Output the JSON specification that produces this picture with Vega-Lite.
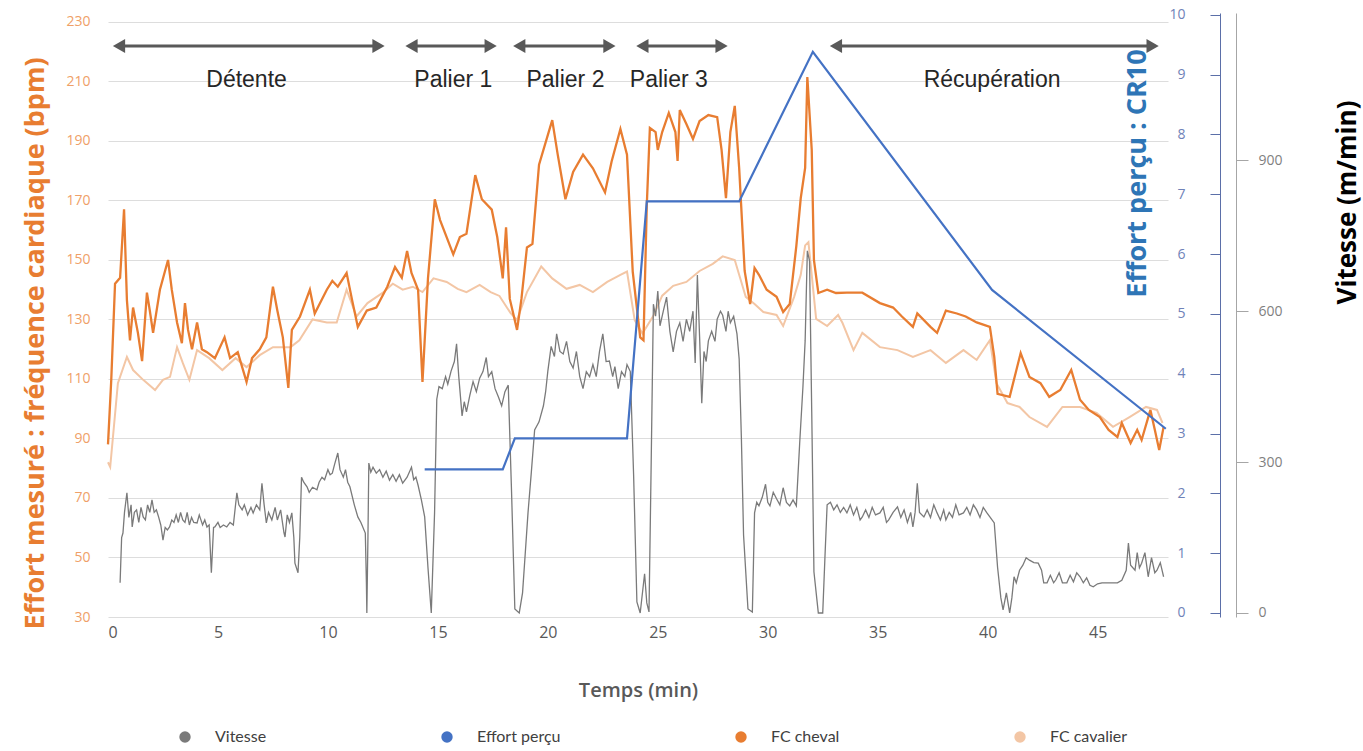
{
  "$schema": "https://vega.github.io/schema/vega-lite/v6.json",
  "width": 1060,
  "height": 604,
  "autosize": {"type": "none"},
  "padding": {"left": 108, "top": 13, "right": 195, "bottom": 134},
  "background": "white",
  "config": {
    "view": {"stroke": null},
    "font": "Lato",
    "axisX": {"tickCount": 10, "grid": false, "domain": false, "ticks": false, "labelColor": "#595959", "labelFontSize": 16, "labelFont": "Open Sans", "labelPadding": 7, "titleColor": "#595959", "titleFont": "Open Sans", "titleFontSize": 20, "titleFontWeight": 600, "titleY": 73, "titleBaseline": "middle"}
  },
  "datasets": {
    "cheval": [
      {"t":0.0,"v":88},{"t":0.15,"v":110},{"t":0.32,"v":142},{"t":0.55,"v":144},{"t":0.73,"v":167},{"t":0.86,"v":136.5},{"t":1.0,"v":123},{"t":1.14,"v":134},{"t":1.36,"v":125.5},{"t":1.55,"v":116},{"t":1.77,"v":139},{"t":1.9,"v":133},{"t":2.05,"v":125.5},{"t":2.36,"v":140},{"t":2.73,"v":150},{"t":2.9,"v":140},{"t":3.14,"v":129},{"t":3.36,"v":122},{"t":3.5,"v":135.5},{"t":3.64,"v":126.5},{"t":3.82,"v":120},{"t":4.05,"v":129},{"t":4.27,"v":120},{"t":4.5,"v":119},{"t":4.86,"v":117},{"t":5.3,"v":124},{"t":5.55,"v":117},{"t":5.9,"v":119},{"t":6.3,"v":109},{"t":6.55,"v":117},{"t":6.9,"v":120},{"t":7.2,"v":124},{"t":7.5,"v":141},{"t":7.7,"v":133},{"t":7.95,"v":124},{"t":8.2,"v":107},{"t":8.36,"v":126.5},{"t":8.73,"v":131},{"t":9.18,"v":140},{"t":9.4,"v":132},{"t":9.95,"v":140},{"t":10.2,"v":143},{"t":10.45,"v":141},{"t":10.85,"v":145.6},{"t":11.1,"v":136.5},{"t":11.36,"v":127.5},{"t":11.77,"v":133},{"t":12.2,"v":134},{"t":12.7,"v":141},{"t":13.05,"v":147.6},{"t":13.36,"v":144},{"t":13.6,"v":153},{"t":13.8,"v":145.6},{"t":14.1,"v":140},{"t":14.3,"v":109},{"t":14.55,"v":143.8},{"t":14.86,"v":170.4},{"t":15.1,"v":163.4},{"t":15.7,"v":151.9},{"t":16.0,"v":157.7},{"t":16.3,"v":158.8},{"t":16.7,"v":178.5},{"t":17.0,"v":170.4},{"t":17.45,"v":166.9},{"t":17.7,"v":157.7},{"t":17.95,"v":143.8},{"t":18.1,"v":161},{"t":18.27,"v":136.9},{"t":18.6,"v":126.5},{"t":18.8,"v":136.9},{"t":19.05,"v":154.2},{"t":19.3,"v":155.4},{"t":19.6,"v":182},{"t":20.2,"v":197},{"t":20.45,"v":185.4},{"t":20.8,"v":170.4},{"t":21.15,"v":179.6},{"t":21.6,"v":185.4},{"t":22.05,"v":180.8},{"t":22.6,"v":172.7},{"t":22.9,"v":183.1},{"t":23.3,"v":194},{"t":23.6,"v":185.4},{"t":23.86,"v":146.1},{"t":24.2,"v":124},{"t":24.35,"v":123},{"t":24.5,"v":168.5},{"t":24.64,"v":194.4},{"t":24.9,"v":193},{"t":25.0,"v":187},{"t":25.2,"v":193},{"t":25.5,"v":199.4},{"t":25.8,"v":193},{"t":25.9,"v":183.3},{"t":26.0,"v":200.4},{"t":26.3,"v":195.7},{"t":26.6,"v":190.7},{"t":26.9,"v":196.7},{"t":27.3,"v":198.7},{"t":27.7,"v":198},{"t":27.9,"v":187},{"t":28.1,"v":170.8},{"t":28.3,"v":193},{"t":28.5,"v":201.8},{"t":28.7,"v":180.9},{"t":28.95,"v":146.3},{"t":29.2,"v":135.2},{"t":29.4,"v":147.3},{"t":29.6,"v":145},{"t":29.95,"v":140},{"t":30.4,"v":137.6},{"t":30.7,"v":132.5},{"t":31.0,"v":135.2},{"t":31.3,"v":154.7},{"t":31.5,"v":170.8},{"t":31.7,"v":180.9},{"t":31.8,"v":211.5},{"t":32.0,"v":187},{"t":32.1,"v":150},{"t":32.3,"v":138.9},{"t":32.7,"v":140},{"t":33.1,"v":138.9},{"t":33.6,"v":139},{"t":34.3,"v":139},{"t":35.1,"v":135.5},{"t":35.7,"v":134},{"t":36.1,"v":131},{"t":36.6,"v":127.5},{"t":36.8,"v":132},{"t":37.4,"v":127.5},{"t":37.7,"v":125.5},{"t":38.1,"v":133},{"t":38.6,"v":132},{"t":39.0,"v":131},{"t":39.5,"v":129},{"t":40.1,"v":127.5},{"t":40.3,"v":117.4},{"t":40.45,"v":105},{"t":41.0,"v":104},{"t":41.5,"v":118.7},{"t":41.9,"v":110.7},{"t":42.4,"v":108.6},{"t":42.8,"v":104},{"t":43.3,"v":106.3},{"t":43.8,"v":113},{"t":44.2,"v":103},{"t":44.6,"v":99.6},{"t":45.1,"v":97.2},{"t":45.5,"v":92.9},{"t":45.9,"v":90.5},{"t":46.1,"v":95.2},{"t":46.5,"v":88.5},{"t":46.8,"v":92.9},{"t":47.0,"v":89.5},{"t":47.4,"v":99.6},{"t":47.6,"v":92.9},{"t":47.8,"v":86.1},{"t":48.0,"v":93.9}
    ],
    "cavalier": [
      {"t":0.0,"v":82},{"t":0.1,"v":80.4},{"t":0.45,"v":108.6},{"t":0.86,"v":117.4},{"t":1.14,"v":113},{"t":1.6,"v":109.7},{"t":2.14,"v":106.3},{"t":2.5,"v":109.7},{"t":2.82,"v":110.7},{"t":3.14,"v":120.7},{"t":3.4,"v":115.4},{"t":3.7,"v":109.7},{"t":4.05,"v":119.7},{"t":4.6,"v":117},{"t":5.2,"v":113},{"t":5.8,"v":117},{"t":6.3,"v":114},{"t":6.9,"v":118},{"t":7.5,"v":120.7},{"t":8.3,"v":120.7},{"t":8.7,"v":123},{"t":9.3,"v":130},{"t":9.95,"v":129},{"t":10.4,"v":129},{"t":10.85,"v":140},{"t":11.3,"v":131},{"t":11.8,"v":135.5},{"t":12.5,"v":139},{"t":12.95,"v":142},{"t":13.4,"v":140},{"t":13.86,"v":141},{"t":14.3,"v":139.2},{"t":14.8,"v":143.8},{"t":15.4,"v":142.6},{"t":15.9,"v":140.3},{"t":16.3,"v":139.2},{"t":16.9,"v":141.6},{"t":17.4,"v":139.2},{"t":17.8,"v":137.9},{"t":18.3,"v":132.2},{"t":18.6,"v":129.8},{"t":19.05,"v":139.2},{"t":19.7,"v":147.8},{"t":20.2,"v":143.8},{"t":20.85,"v":140.3},{"t":21.45,"v":141.6},{"t":22.05,"v":139.2},{"t":22.7,"v":142.6},{"t":23.3,"v":145},{"t":23.6,"v":146.1},{"t":23.95,"v":129.8},{"t":24.3,"v":125.3},{"t":24.8,"v":131.2},{"t":25.2,"v":138},{"t":25.7,"v":141.3},{"t":26.3,"v":142.6},{"t":26.9,"v":146.3},{"t":27.5,"v":148.7},{"t":27.95,"v":151.2},{"t":28.5,"v":150},{"t":28.7,"v":145},{"t":29.0,"v":137.6},{"t":29.4,"v":135.2},{"t":29.8,"v":132.5},{"t":30.4,"v":131.5},{"t":30.7,"v":127.8},{"t":31.2,"v":137.6},{"t":31.5,"v":145},{"t":31.7,"v":154.9},{"t":31.85,"v":156},{"t":32.2,"v":130.2},{"t":32.7,"v":127.8},{"t":33.2,"v":131.5},{"t":33.4,"v":128.8},{"t":33.9,"v":119.7},{"t":34.3,"v":125.5},{"t":35.1,"v":120.7},{"t":35.9,"v":119.7},{"t":36.6,"v":117.4},{"t":37.4,"v":119.7},{"t":38.1,"v":115.4},{"t":38.9,"v":119.7},{"t":39.5,"v":116.4},{"t":40.1,"v":123},{"t":40.4,"v":108.6},{"t":40.9,"v":101.9},{"t":41.45,"v":100.6},{"t":41.9,"v":97.2},{"t":42.7,"v":93.9},{"t":43.4,"v":100.6},{"t":44.2,"v":100.6},{"t":44.95,"v":98.6},{"t":45.7,"v":93.9},{"t":46.45,"v":97.2},{"t":47.2,"v":100.6},{"t":47.7,"v":99.6},{"t":47.95,"v":95.2}
    ],
    "vitesse": [
      {"t":0.55,"v":60},{"t":0.62,"v":150},{"t":0.68,"v":159},{"t":0.75,"v":200},{"t":0.86,"v":239},{"t":0.95,"v":190},{"t":1.05,"v":215},{"t":1.1,"v":171},{"t":1.2,"v":200},{"t":1.3,"v":205},{"t":1.4,"v":180},{"t":1.5,"v":210},{"t":1.6,"v":191},{"t":1.7,"v":185},{"t":1.8,"v":215},{"t":1.9,"v":200},{"t":2.0,"v":225},{"t":2.1,"v":200},{"t":2.2,"v":205},{"t":2.3,"v":191},{"t":2.4,"v":175},{"t":2.5,"v":145},{"t":2.6,"v":170},{"t":2.7,"v":165},{"t":2.8,"v":171},{"t":2.9,"v":185},{"t":3.0,"v":180},{"t":3.1,"v":195},{"t":3.2,"v":180},{"t":3.3,"v":200},{"t":3.4,"v":185},{"t":3.5,"v":180},{"t":3.6,"v":200},{"t":3.7,"v":175},{"t":3.8,"v":190},{"t":3.9,"v":180},{"t":4.05,"v":179},{"t":4.15,"v":195},{"t":4.3,"v":175},{"t":4.4,"v":185},{"t":4.5,"v":171},{"t":4.6,"v":175},{"t":4.7,"v":80},{"t":4.8,"v":170},{"t":4.86,"v":171},{"t":5.0,"v":180},{"t":5.1,"v":170},{"t":5.25,"v":175},{"t":5.4,"v":171},{"t":5.55,"v":180},{"t":5.7,"v":175},{"t":5.86,"v":239},{"t":5.95,"v":215},{"t":6.1,"v":205},{"t":6.2,"v":215},{"t":6.35,"v":195},{"t":6.5,"v":210},{"t":6.6,"v":199},{"t":6.75,"v":215},{"t":6.9,"v":205},{"t":7.0,"v":258},{"t":7.1,"v":215},{"t":7.2,"v":179},{"t":7.3,"v":200},{"t":7.45,"v":185},{"t":7.6,"v":210},{"t":7.7,"v":185},{"t":7.85,"v":205},{"t":8.0,"v":160},{"t":8.05,"v":151},{"t":8.15,"v":195},{"t":8.25,"v":180},{"t":8.36,"v":199},{"t":8.45,"v":150},{"t":8.5,"v":99},{"t":8.64,"v":80},{"t":8.72,"v":150},{"t":8.8,"v":270},{"t":8.9,"v":260},{"t":9.05,"v":251},{"t":9.15,"v":240},{"t":9.3,"v":250},{"t":9.5,"v":245},{"t":9.6,"v":260},{"t":9.73,"v":270},{"t":9.85,"v":265},{"t":10.0,"v":285},{"t":10.1,"v":275},{"t":10.2,"v":278},{"t":10.3,"v":295},{"t":10.45,"v":318},{"t":10.55,"v":285},{"t":10.7,"v":270},{"t":10.8,"v":285},{"t":10.9,"v":260},{"t":11.0,"v":251},{"t":11.2,"v":215},{"t":11.36,"v":191},{"t":11.5,"v":180},{"t":11.7,"v":159},{"t":11.75,"v":60},{"t":11.77,"v":0},{"t":11.82,"v":150},{"t":11.86,"v":298},{"t":11.95,"v":280},{"t":12.05,"v":290},{"t":12.2,"v":278},{"t":12.35,"v":285},{"t":12.5,"v":270},{"t":12.65,"v":282},{"t":12.8,"v":264},{"t":12.95,"v":275},{"t":13.1,"v":262},{"t":13.25,"v":275},{"t":13.4,"v":258},{"t":13.6,"v":270},{"t":13.8,"v":290},{"t":13.9,"v":265},{"t":14.0,"v":270},{"t":14.1,"v":254},{"t":14.25,"v":225},{"t":14.4,"v":191},{"t":14.55,"v":90},{"t":14.7,"v":0},{"t":14.85,"v":200},{"t":14.95,"v":425},{"t":15.05,"v":450},{"t":15.2,"v":446},{"t":15.35,"v":470},{"t":15.45,"v":455},{"t":15.6,"v":481},{"t":15.75,"v":500},{"t":15.85,"v":535},{"t":15.95,"v":470},{"t":16.1,"v":392},{"t":16.2,"v":420},{"t":16.3,"v":400},{"t":16.45,"v":432},{"t":16.6,"v":460},{"t":16.75,"v":440},{"t":16.9,"v":467},{"t":17.05,"v":480},{"t":17.2,"v":508},{"t":17.3,"v":470},{"t":17.45,"v":480},{"t":17.6,"v":446},{"t":17.75,"v":430},{"t":17.9,"v":412},{"t":18.05,"v":440},{"t":18.2,"v":453},{"t":18.35,"v":241},{"t":18.5,"v":8},{"t":18.7,"v":0},{"t":18.85,"v":40},{"t":18.95,"v":104},{"t":19.1,"v":200},{"t":19.25,"v":280},{"t":19.4,"v":364},{"t":19.6,"v":380},{"t":19.8,"v":412},{"t":19.9,"v":440},{"t":20.0,"v":481},{"t":20.15,"v":530},{"t":20.3,"v":510},{"t":20.4,"v":555},{"t":20.55,"v":520},{"t":20.7,"v":515},{"t":20.85,"v":540},{"t":21.0,"v":500},{"t":21.15,"v":487},{"t":21.3,"v":520},{"t":21.45,"v":470},{"t":21.6,"v":446},{"t":21.75,"v":480},{"t":21.9,"v":470},{"t":22.05,"v":494},{"t":22.2,"v":470},{"t":22.35,"v":520},{"t":22.5,"v":555},{"t":22.65,"v":500},{"t":22.8,"v":501},{"t":22.95,"v":470},{"t":23.05,"v":490},{"t":23.2,"v":446},{"t":23.35,"v":480},{"t":23.5,"v":470},{"t":23.6,"v":494},{"t":23.75,"v":480},{"t":23.9,"v":275},{"t":24.05,"v":22},{"t":24.2,"v":0},{"t":24.4,"v":78},{"t":24.5,"v":20},{"t":24.6,"v":2},{"t":24.7,"v":300},{"t":24.8,"v":614},{"t":24.9,"v":590},{"t":25.0,"v":640},{"t":25.1,"v":571},{"t":25.25,"v":600},{"t":25.4,"v":628},{"t":25.55,"v":560},{"t":25.7,"v":519},{"t":25.85,"v":560},{"t":26.0,"v":577},{"t":26.15,"v":540},{"t":26.3,"v":584},{"t":26.45,"v":560},{"t":26.6,"v":600},{"t":26.7,"v":497},{"t":26.8,"v":672},{"t":26.9,"v":550},{"t":27.0,"v":417},{"t":27.1,"v":520},{"t":27.2,"v":500},{"t":27.3,"v":541},{"t":27.45,"v":560},{"t":27.6,"v":540},{"t":27.7,"v":584},{"t":27.85,"v":600},{"t":27.95,"v":592},{"t":28.1,"v":560},{"t":28.2,"v":600},{"t":28.3,"v":577},{"t":28.45,"v":590},{"t":28.6,"v":555},{"t":28.7,"v":505},{"t":28.8,"v":350},{"t":28.9,"v":155},{"t":29.1,"v":8},{"t":29.3,"v":2},{"t":29.35,"v":100},{"t":29.4,"v":199},{"t":29.5,"v":220},{"t":29.6,"v":213},{"t":29.75,"v":230},{"t":29.9,"v":256},{"t":30.0,"v":220},{"t":30.1,"v":213},{"t":30.25,"v":240},{"t":30.4,"v":227},{"t":30.55,"v":215},{"t":30.7,"v":249},{"t":30.85,"v":220},{"t":31.0,"v":213},{"t":31.15,"v":225},{"t":31.3,"v":213},{"t":31.45,"v":336},{"t":31.6,"v":450},{"t":31.7,"v":541},{"t":31.8,"v":720},{"t":31.9,"v":700},{"t":32.0,"v":400},{"t":32.1,"v":82},{"t":32.3,"v":0},{"t":32.5,"v":0},{"t":32.6,"v":110},{"t":32.7,"v":215},{"t":32.85,"v":220},{"t":33.0,"v":205},{"t":33.15,"v":215},{"t":33.3,"v":200},{"t":33.45,"v":210},{"t":33.6,"v":199},{"t":33.75,"v":215},{"t":33.9,"v":195},{"t":34.05,"v":210},{"t":34.2,"v":185},{"t":34.3,"v":191},{"t":34.45,"v":205},{"t":34.6,"v":190},{"t":34.75,"v":210},{"t":34.9,"v":195},{"t":35.1,"v":199},{"t":35.25,"v":210},{"t":35.4,"v":180},{"t":35.5,"v":185},{"t":35.7,"v":200},{"t":35.9,"v":211},{"t":36.05,"v":190},{"t":36.2,"v":205},{"t":36.35,"v":180},{"t":36.5,"v":200},{"t":36.6,"v":171},{"t":36.7,"v":200},{"t":36.8,"v":258},{"t":36.9,"v":200},{"t":37.1,"v":191},{"t":37.25,"v":205},{"t":37.4,"v":190},{"t":37.55,"v":215},{"t":37.7,"v":199},{"t":37.85,"v":185},{"t":38.0,"v":205},{"t":38.1,"v":185},{"t":38.25,"v":200},{"t":38.4,"v":190},{"t":38.55,"v":215},{"t":38.7,"v":195},{"t":38.9,"v":199},{"t":39.05,"v":210},{"t":39.2,"v":195},{"t":39.35,"v":215},{"t":39.5,"v":205},{"t":39.65,"v":190},{"t":39.8,"v":210},{"t":39.95,"v":200},{"t":40.1,"v":191},{"t":40.3,"v":179},{"t":40.45,"v":91},{"t":40.6,"v":30},{"t":40.7,"v":6},{"t":40.85,"v":40},{"t":41.0,"v":0},{"t":41.1,"v":30},{"t":41.2,"v":72},{"t":41.3,"v":60},{"t":41.45,"v":85},{"t":41.6,"v":95},{"t":41.75,"v":110},{"t":41.9,"v":105},{"t":42.1,"v":100},{"t":42.3,"v":99},{"t":42.45,"v":85},{"t":42.55,"v":60},{"t":42.7,"v":60},{"t":42.85,"v":75},{"t":43.0,"v":60},{"t":43.1,"v":66},{"t":43.25,"v":80},{"t":43.4,"v":60},{"t":43.6,"v":60},{"t":43.75,"v":75},{"t":43.9,"v":62},{"t":44.05,"v":80},{"t":44.2,"v":72},{"t":44.35,"v":60},{"t":44.5,"v":70},{"t":44.65,"v":55},{"t":44.8,"v":52},{"t":45.0,"v":58},{"t":45.2,"v":60},{"t":45.5,"v":60},{"t":45.9,"v":60},{"t":46.1,"v":65},{"t":46.3,"v":85},{"t":46.4,"v":139},{"t":46.5,"v":95},{"t":46.7,"v":85},{"t":46.8,"v":120},{"t":46.9,"v":90},{"t":47.0,"v":99},{"t":47.15,"v":120},{"t":47.3,"v":72},{"t":47.45,"v":110},{"t":47.6,"v":80},{"t":47.7,"v":85},{"t":47.85,"v":100},{"t":48.0,"v":72}
    ],
    "effort": [
      {"t":14.4,"v":2.4},{"t":17.95,"v":2.4},{"t":18.5,"v":2.92},{"t":23.6,"v":2.92},{"t":24.5,"v":6.88},{"t":28.7,"v":6.88},{"t":32.05,"v":9.38},{"t":40.2,"v":5.4},{"t":48.1,"v":3.08}
    ],
    "phases": [
      {"phase":"Détente","start":0.5,"end":12.3,"mid":6.3},
      {"phase":"Palier 1","start":13.8,"end":17.4,"mid":15.7},
      {"phase":"Palier 2","start":18.7,"end":22.8,"mid":20.8},
      {"phase":"Palier 3","start":24.3,"end":27.9,"mid":25.5},
      {"phase":"Récupération","start":33.1,"end":47.5,"mid":40.2}
    ]
  },
  "layer": [
    {
      "layer": [
        {
          "data": {"name": "cavalier"},
          "mark": {"type": "line", "strokeWidth": 2, "interpolate": "linear"},
          "encoding": {
            "x": {"field": "t", "type": "quantitative", "title": "Temps (min)", "scale": {"domain": [0, 48.2], "nice": false, "zero": false}},
            "y": {"field": "v", "type": "quantitative", "scale": {"domain": [30, 233], "nice": false, "zero": false},
              "axis": {"orient": "left", "values": [30,50,70,90,110,130,150,170,190,210,230], "grid": true, "gridColor": "#DDDDDD", "domain": false, "ticks": false, "labelColor": "#EFA068", "labelFontSize": 14, "labelFont": "Open Sans", "labelPadding": 18,
                "title": "Effort mesuré : fréquence cardiaque (bpm)", "titleColor": "#E87D31", "titleFont": "Open Sans", "titleFontSize": 27, "titleFontWeight": "bold", "titleX": -73, "titleY": 330, "titleAngle": 270, "titleAlign": "center", "titleBaseline": "middle"}},
            "color": {"datum": "FC cavalier", "type": "nominal", "scale": {"domain": ["Vitesse", "Effort perçu", "FC cheval", "FC cavalier"], "range": ["#7A7A7A", "#4472C4", "#E87D31", "#F3C6A5"]},
              "legend": {"orient": "none", "legendX": 69, "legendY": 716, "direction": "horizontal", "title": null, "symbolType": "circle", "symbolSize": 130, "symbolStrokeWidth": 0, "labelFontSize": 16, "labelColor": "#404040", "labelFont": "Lato", "labelOffset": 22, "columnPadding": 172,
                "encode": {"symbols": {"update": {"fill": {"scale": "color", "field": "value"}, "fillOpacity": {"value": 1}}}}}}
          }
        },
        {
          "data": {"name": "cheval"},
          "mark": {"type": "line", "strokeWidth": 2.3},
          "encoding": {
            "x": {"field": "t", "type": "quantitative", "title": "Temps (min)"},
            "y": {"field": "v", "type": "quantitative"},
            "color": {"datum": "FC cheval", "type": "nominal"}
          }
        },
        {
          "data": {"name": "phases"},
          "mark": {"type": "rule", "color": "#595959", "strokeWidth": 3},
          "encoding": {
            "x": {"field": "start", "type": "quantitative", "title": "Temps (min)"},
            "x2": {"field": "end"},
            "y": {"datum": 221.9, "type": "quantitative"}
          }
        },
        {
          "data": {"name": "phases"},
          "mark": {"type": "point", "shape": "triangle-left", "filled": true, "color": "#595959", "size": 200, "opacity": 1},
          "encoding": {
            "x": {"field": "start", "type": "quantitative", "title": "Temps (min)"},
            "y": {"datum": 221.9, "type": "quantitative"}
          }
        },
        {
          "data": {"name": "phases"},
          "mark": {"type": "point", "shape": "triangle-right", "filled": true, "color": "#595959", "size": 200, "opacity": 1},
          "encoding": {
            "x": {"field": "end", "type": "quantitative", "title": "Temps (min)"},
            "y": {"datum": 221.9, "type": "quantitative"}
          }
        },
        {
          "data": {"name": "phases"},
          "mark": {"type": "text", "font": "Liberation Sans", "fontSize": 23, "color": "#262626", "baseline": "middle", "align": "center"},
          "encoding": {
            "x": {"field": "mid", "type": "quantitative", "title": "Temps (min)"},
            "y": {"datum": 210.5, "type": "quantitative"},
            "text": {"field": "phase"}
          }
        }
      ]
    },
    {
      "data": {"name": "vitesse"},
      "mark": {"type": "line", "strokeWidth": 1.3},
      "encoding": {
        "x": {"field": "t", "type": "quantitative", "title": "Temps (min)"},
        "y": {"field": "v", "type": "quantitative", "scale": {"domain": [-8, 1193], "nice": false, "zero": false},
          "axis": {"orient": "right", "offset": 68, "values": [0, 300, 600, 900], "grid": false, "domainColor": "#A6A6A6", "tickColor": "#A6A6A6", "tickSize": 12, "labelPadding": 10, "labelColor": "#7F7F7F", "labelFontSize": 14, "labelFont": "Open Sans",
            "title": "Vitesse (m/min)", "titleColor": "#000000", "titleFont": "Open Sans", "titleFontSize": 26, "titleFontWeight": "bold", "titleX": 111, "titleY": 189, "titleAngle": 270, "titleAlign": "center", "titleBaseline": "middle"}},
        "color": {"datum": "Vitesse", "type": "nominal"}
      }
    },
    {
      "data": {"name": "effort"},
      "mark": {"type": "line", "strokeWidth": 2.2},
      "encoding": {
        "x": {"field": "t", "type": "quantitative", "title": "Temps (min)"},
        "y": {"field": "v", "type": "quantitative", "scale": {"domain": [-0.067, 10.03], "nice": false, "zero": false},
          "axis": {"orient": "right", "offset": 52, "values": [0,1,2,3,4,5,6,7,8,9,10], "grid": false, "domainColor": "#5B6FA8", "tickColor": "#5B6FA8", "tickSize": -10, "labelPadding": -25, "labelAlign": "right", "labelColor": "#6F82B8", "labelFontSize": 14, "labelFont": "Open Sans",
            "title": "Effort perçu : CR10", "titleColor": "#2E75B6", "titleFont": "Open Sans", "titleFontSize": 27, "titleFontWeight": "bold", "titleX": -83, "titleY": 160, "titleAngle": 270, "titleAlign": "center", "titleBaseline": "middle"}},
        "color": {"datum": "Effort perçu", "type": "nominal"}
      }
    }
  ],
  "resolve": {"scale": {"y": "independent"}}
}
